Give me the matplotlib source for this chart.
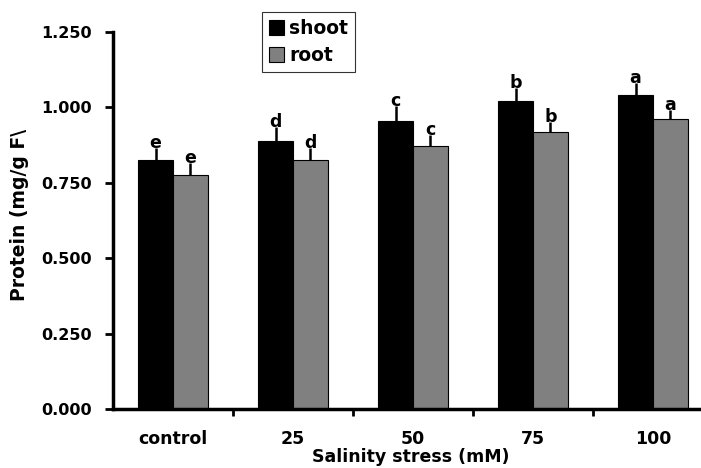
import matplotlib.pyplot as plt
import numpy as np

categories = ['control', '25', '50', '75', '100']
shoot = [0.824, 0.888, 0.954, 1.021, 1.041]
root = [0.775, 0.824, 0.871, 0.918, 0.961]
shoot_err = [0.043, 0.047, 0.05, 0.043, 0.04]
root_err = [0.04, 0.043, 0.037, 0.035, 0.03]
shoot_letters = ['e', 'd', 'c', 'b', 'a']
root_letters = ['e', 'd', 'c', 'b', 'a']

plt.rcParams['font.family'] = ['DejaVu Sans']
plt.rcParams['font.weight'] = 'bold'

fig = plt.figure(figsize=(7.01, 4.68), dpi=100)
ax = fig.add_axes([113 / 701, 59 / 468, 600 / 701, 377 / 468])

x = np.arange(len(categories))
w = 0.29
ax.bar(x - w / 2, shoot, width=w, color='black', edgecolor='black', linewidth=0.8, label='shoot')
ax.bar(x + w / 2, root, width=w, color='#808080', edgecolor='black', linewidth=0.8, label='root')
ax.errorbar(x - w / 2, shoot, yerr=[np.zeros(len(shoot)), shoot_err], fmt='none', ecolor='black', elinewidth=1.8, capsize=0)
ax.errorbar(x + w / 2, root, yerr=[np.zeros(len(root)), root_err], fmt='none', ecolor='black', elinewidth=1.8, capsize=0)

for i in range(len(categories)):
    ax.text(x[i] - w / 2, shoot[i] + shoot_err[i] - 0.014, shoot_letters[i], ha='center', va='bottom', fontsize=12.5, fontweight='bold')
    ax.text(x[i] + w / 2, root[i] + root_err[i] - 0.014, root_letters[i], ha='center', va='bottom', fontsize=12.5, fontweight='bold')

ax.set_xlim(-0.5, 4.5)
ax.set_ylim(0, 1.25)
ax.set_yticks([0, 0.25, 0.5, 0.75, 1.0, 1.25])
ax.set_yticklabels(['0.000', '0.250', '0.500', '0.750', '1.000', '1.250'], fontsize=11.5, fontweight='bold')
ax.set_xticks(x)
ax.set_xticklabels(categories, fontsize=12.5, fontweight='bold')
ax.set_xticks([0.5, 1.5, 2.5, 3.5], minor=True)
ax.tick_params(axis='x', which='major', length=0, pad=15)
ax.tick_params(axis='x', which='minor', length=5, width=2, direction='out')
ax.tick_params(axis='y', length=6, width=2, direction='out', pad=9)
ax.spines['top'].set_visible(False)
ax.spines['right'].set_visible(False)
ax.spines['left'].set_linewidth(2.5)
ax.spines['bottom'].set_linewidth(2.5)

fig.text(411 / 701, 1 - 457 / 468, 'Salinity stress (mM)', ha='center', va='center', fontsize=12.5, fontweight='bold')
fig.text(20 / 701, 1 - 215 / 468, 'Protein (mg/g F\\', ha='center', va='center', rotation=90, fontsize=13.5, fontweight='bold')

leg = ax.legend(loc='upper left', bbox_to_anchor=((262 - 113) / 600, 1 + 20 / 377), fontsize=13.5,
                frameon=True, fancybox=False, edgecolor='black', handlelength=0.8, handleheight=0.85,
                handletextpad=0.3, borderpad=0.35, labelspacing=0.45, borderaxespad=0)
leg.get_frame().set_linewidth(0.8)

fig.savefig('out.png', dpi=100)
